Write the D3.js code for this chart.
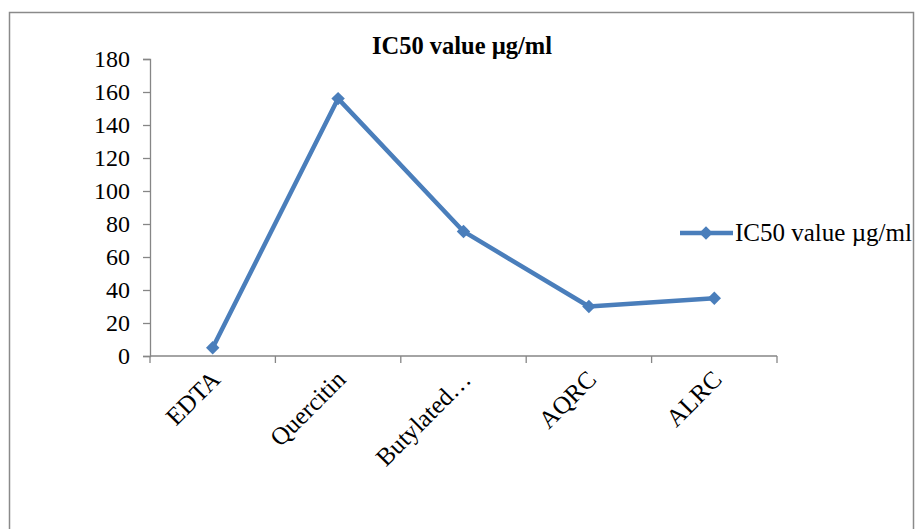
<!DOCTYPE html>
<html><head><meta charset="utf-8">
<script src="https://cdn.jsdelivr.net/npm/d3@7"></script>
<style>body{margin:0;background:#fff}svg{display:block}</style>
</head><body>
<script>
const categories = ["EDTA", "Quercitin", "Butylated…", "AQRC", "ALRC"];
const values = [5, 156, 75.5, 30, 35];
const yTicks = [0, 20, 40, 60, 80, 100, 120, 140, 160, 180];
const seriesName = "IC50 value µg/ml";
const title = "IC50 value µg/ml";

(function(){
const W = 916, H = 529;
const svg = d3.select("body").append("svg").attr("width", W).attr("height", H);
const font = "'Liberation Serif','Times New Roman',serif";
const blue = "#4a7ebb", grey = "#868686";

svg.append("rect").attr("x", 9.5).attr("y", 12.5).attr("width", 904).attr("height", 530)
  .attr("fill", "none").attr("stroke", "#8a8a8a").attr("stroke-width", 1.5);

const pLeft = 150, pRight = 777, pTop = 59, pBottom = 356;
const x = d3.scaleBand().domain(categories).range([pLeft, pRight]);
const y = d3.scaleLinear().domain([0, 180]).range([pBottom, pTop]);

// Y axis
const ya = svg.append("g").attr("transform", `translate(${pLeft},0)`)
  .call(d3.axisLeft(y).tickValues(yTicks).tickSize(7).tickPadding(13));
ya.select(".domain").attr("stroke", grey).attr("stroke-width", 1.3);
ya.selectAll(".tick line").attr("stroke", grey).attr("stroke-width", 1.3);
ya.selectAll("text").attr("font-family", font).attr("font-size", 24).attr("fill", "#000").attr("dy", "0.33em");

// X axis
const xa = svg.append("g").attr("transform", `translate(0,${pBottom})`);
xa.append("line").attr("x1", pLeft).attr("x2", pRight).attr("stroke", grey).attr("stroke-width", 1.3);
const bounds = categories.map(c => x(c)).concat([x(categories[categories.length-1]) + x.bandwidth()]);
xa.selectAll("line.tk").data(bounds).join("line").attr("class","tk")
  .attr("x1", d => d).attr("x2", d => d).attr("y1", 0).attr("y2", 7)
  .attr("stroke", grey).attr("stroke-width", 1.3);
xa.selectAll("text").data(categories).join("text")
  .attr("transform", d => `translate(${x(d) + x.bandwidth()/2 + 9},${25}) rotate(-45)`)
  .attr("text-anchor", "end").attr("font-family", font).attr("font-size", 25).attr("fill", "#000")
  .text(d => d);

// line
const pts = categories.map((c, i) => [x(c) + x.bandwidth()/2, y(values[i])]);
svg.append("path").attr("d", d3.line()(pts)).attr("fill", "none")
  .attr("stroke", blue).attr("stroke-width", 4.5).attr("stroke-linejoin", "round");
const diamond = d3.symbol().type(d3.symbolDiamond2).size(115);
svg.selectAll("path.mk").data(pts).join("path").attr("class", "mk")
  .attr("transform", d => `translate(${d[0]},${d[1]})`).attr("d", diamond()).attr("fill", blue);

// title
svg.append("text").attr("x", 462).attr("y", 54).attr("text-anchor", "middle")
  .attr("font-family", font).attr("font-size", 24.5).attr("font-weight", "bold").text(title);

// legend
const ly = 233;
svg.append("line").attr("x1", 680).attr("x2", 733).attr("y1", ly).attr("y2", ly)
  .attr("stroke", blue).attr("stroke-width", 4.5);
svg.append("path").attr("transform", `translate(706,${ly})`).attr("d", diamond()).attr("fill", blue);
svg.append("text").attr("x", 735).attr("y", ly + 8).attr("font-family", font).attr("font-size", 25)
  .text(seriesName);
})();
</script>
</body></html>
